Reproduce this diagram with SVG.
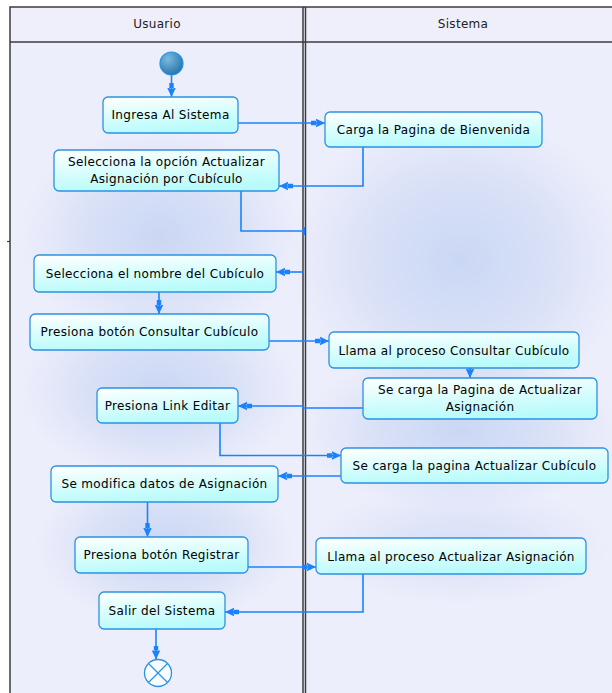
<svg xmlns="http://www.w3.org/2000/svg" width="612" height="693" viewBox="0 0 612 693">
<defs>
  <linearGradient id="nodeFill" x1="0" y1="0" x2="0.25" y2="1">
    <stop offset="0" stop-color="#ffffff"/>
    <stop offset="1" stop-color="#b9fbfb"/>
  </linearGradient>
  <radialGradient id="blob">
    <stop offset="0" stop-color="#cad7f4" stop-opacity="1"/>
    <stop offset="0.5" stop-color="#cad7f4" stop-opacity="0.6"/>
    <stop offset="1" stop-color="#cad7f4" stop-opacity="0"/>
  </radialGradient>
  <radialGradient id="startFill" cx="0.35" cy="0.3" r="0.8">
    <stop offset="0" stop-color="#7bbbe0"/>
    <stop offset="1" stop-color="#1f6fa8"/>
  </radialGradient>
  <marker id="arr" viewBox="0 0 14 10" markerWidth="14" markerHeight="10" refX="14" refY="5" orient="auto" markerUnits="userSpaceOnUse">
    <path d="M14,5 L5,0.8 L5,9.2 Z M0,2.8 H5.5 V7.2 H0 Z" fill="#1a82ff"/>
  </marker>
  <style>
    .lane { fill: none; stroke: #3c3c3c; stroke-width: 1.5; }
    .hdr { font-family: "DejaVu Sans", "Liberation Sans", sans-serif; font-size: 12px; fill: #222; text-anchor: middle; letter-spacing: 0.3px; }
    .box { fill: url(#nodeFill); stroke: #2b92e0; stroke-width: 1.3; }
    .lbl { font-family: "DejaVu Sans", "Liberation Sans", sans-serif; font-size: 12px; fill: #000; text-anchor: middle; letter-spacing: 0.35px; }
    .con { fill: none; stroke: #1a82ff; stroke-width: 1.6; }
    .ar { marker-end: url(#arr); }
  </style>
</defs>

<!-- lanes background -->
<g id="lanes">
  <rect x="10" y="7" width="602" height="686" fill="#edeefb"/>
  <ellipse cx="160" cy="235" rx="140" ry="110" fill="url(#blob)"/>
  <ellipse cx="160" cy="390" rx="140" ry="90" fill="url(#blob)"/>
  <ellipse cx="165" cy="545" rx="130" ry="80" fill="url(#blob)"/>
  <ellipse cx="460" cy="260" rx="170" ry="150" fill="url(#blob)"/>
  <ellipse cx="460" cy="430" rx="160" ry="80" fill="url(#blob)"/>
  <ellipse cx="460" cy="545" rx="150" ry="60" fill="url(#blob)" opacity="0.6"/>
  <rect x="10" y="7" width="602" height="35" fill="#efeffb"/>
  <path class="lane" d="M10,693 V7 H612 M10,42 H612 M303,7 V693 M305.5,7 V693"/>
  <path d="M7,241.5 H10" stroke="#3c3c3c" stroke-width="1.2"/>
  <text class="hdr" x="157" y="28">Usuario</text>
  <text class="hdr" x="463" y="28">Sistema</text>
</g>

<!-- connectors -->
<g id="connectors">
  <path class="con ar" d="M171.5,75 V97"/>
  <path class="con ar" d="M238,123 H325"/>
  <path class="con ar" d="M363,147 V186 H279"/>
  <path class="con" d="M241,191 V231 H303"/>
  <path d="M304,227 V235" stroke="#1a82ff" stroke-width="2.5"/>
  <path class="con ar" d="M304,272 H276"/>
  <path class="con ar" d="M159,292 V314"/>
  <path class="con ar" d="M269,341 H329"/>
  <path class="con ar" d="M470,368 V378"/>
  <path class="con ar" d="M363,408 H303 V406 H238"/>
  <path class="con ar" d="M220,423 V455.5 H341"/>
  <path class="con ar" d="M341,476 H278"/>
  <path class="con ar" d="M147.5,502 V537"/>
  <path class="con ar" d="M248,567 H316"/>
  <path class="con ar" d="M363,574 V612 H225"/>
  <path class="con ar" d="M156,629 V659.5"/>
</g>

<g id="start">
  <circle cx="171.5" cy="63.5" r="11.5" fill="url(#startFill)" stroke="#2b92e0" stroke-width="1.2"/>
</g>

<g id="n1">
  <rect class="box" x="103" y="97" width="135" height="36" rx="5"/>
  <text class="lbl" x="170.5" y="119">Ingresa Al Sistema</text>
</g>
<g id="n2">
  <rect class="box" x="325" y="112" width="217" height="35" rx="5"/>
  <text class="lbl" x="433.5" y="134">Carga la Pagina de Bienvenida</text>
</g>
<g id="n3">
  <rect class="box" x="54" y="150" width="225" height="41" rx="5"/>
  <text class="lbl" x="166.5" y="166">Selecciona la opción Actualizar</text>
  <text class="lbl" x="166.5" y="183">Asignación por Cubículo</text>
</g>
<g id="n4">
  <rect class="box" x="34" y="255" width="242" height="37" rx="5"/>
  <text class="lbl" x="155" y="277.5">Selecciona el nombre del Cubículo</text>
</g>
<g id="n5">
  <rect class="box" x="30" y="314" width="239" height="36" rx="5"/>
  <text class="lbl" x="149.5" y="336">Presiona botón Consultar Cubículo</text>
</g>
<g id="n6">
  <rect class="box" x="329" y="332" width="250" height="36" rx="5"/>
  <text class="lbl" x="454" y="354.5">Llama al proceso Consultar Cubículo</text>
</g>
<g id="n7">
  <rect class="box" x="363" y="378" width="234" height="41" rx="5"/>
  <text class="lbl" x="480" y="394">Se carga la Pagina de Actualizar</text>
  <text class="lbl" x="480" y="411">Asignación</text>
</g>
<g id="n8">
  <rect class="box" x="97" y="388" width="141" height="35" rx="5"/>
  <text class="lbl" x="167.5" y="410">Presiona Link Editar</text>
</g>
<g id="n9">
  <rect class="box" x="341" y="448" width="267" height="35" rx="5"/>
  <text class="lbl" x="474.5" y="470">Se carga la pagina Actualizar Cubículo</text>
</g>
<g id="n10">
  <rect class="box" x="51" y="466" width="227" height="36" rx="5"/>
  <text class="lbl" x="164.5" y="488">Se modifica datos de Asignación</text>
</g>
<g id="n11">
  <rect class="box" x="75" y="537" width="173" height="36" rx="5"/>
  <text class="lbl" x="161.5" y="559">Presiona botón Registrar</text>
</g>
<g id="n12">
  <rect class="box" x="316" y="538" width="270" height="36" rx="5"/>
  <text class="lbl" x="451" y="560.5">Llama al proceso Actualizar Asignación</text>
</g>
<g id="n13">
  <rect class="box" x="99" y="592" width="126" height="37" rx="5"/>
  <text class="lbl" x="162" y="614.5">Salir del Sistema</text>
</g>

<g id="end">
  <circle cx="158" cy="673" r="13.5" fill="#f6fcff" stroke="#2b92e0" stroke-width="1.3"/>
  <path d="M148.5,663.5 L167.5,682.5 M167.5,663.5 L148.5,682.5" stroke="#2b92e0" stroke-width="1.2"/>
</g>
</svg>
